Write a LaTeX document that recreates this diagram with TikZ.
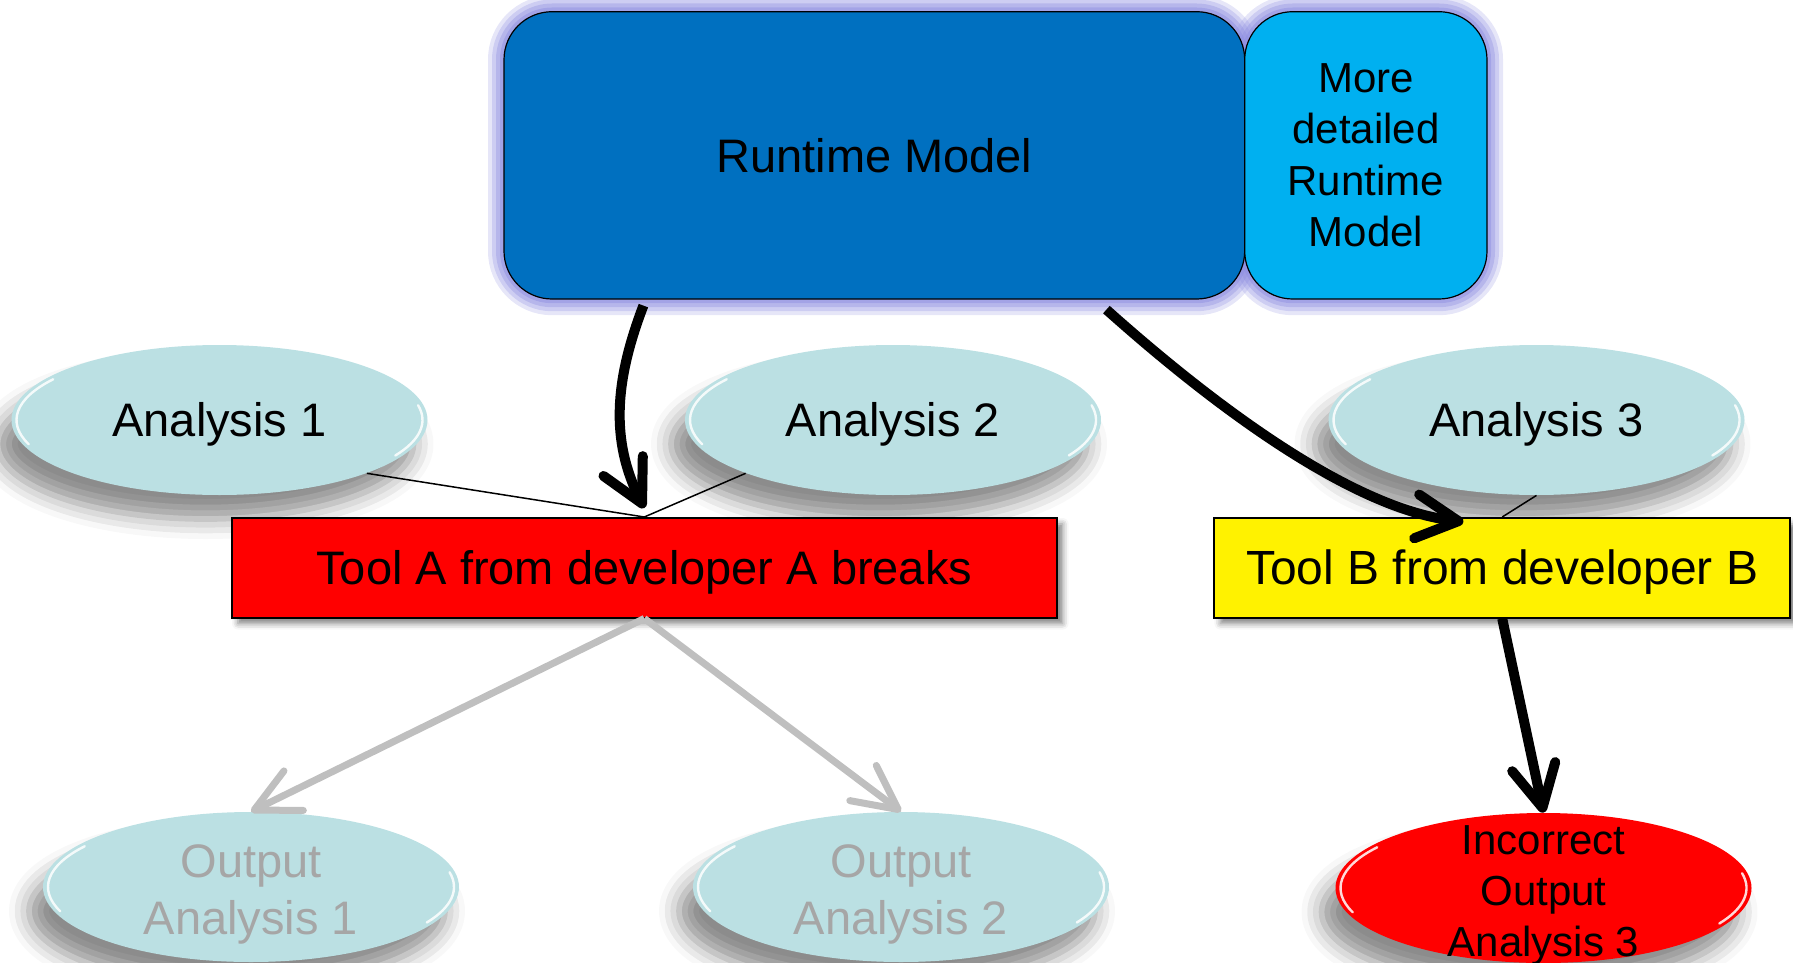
\documentclass[tikz,border=0pt]{standalone}
\usepackage{fontspec}
\setmainfont{Liberation Sans}
\usetikzlibrary{shapes.geometric,arrows.meta,shadows.blur,calc}
\definecolor{rtblue}{HTML}{0070C0}
\definecolor{rtcyan}{HTML}{00B0F0}
\definecolor{anfill}{HTML}{BBE0E3}
\definecolor{glowc}{HTML}{8C8CE0}
\definecolor{outtext}{HTML}{A6A6A6}
\definecolor{outarrow}{HTML}{BFBFBF}
\tikzset{
  modelbox/.style={draw=black, line width=0.6pt, rounded corners=24pt, inner sep=0pt,
    minimum height=143.65pt, align=center, font=\fontsize{23.5pt}{25.5pt}\selectfont},
  glowring/.style={draw=glowc, rounded corners=24pt},
  anellipse/.style={ellipse, fill=anfill, minimum width=208pt, minimum height=75pt, inner sep=0pt,
    text height=16.9pt, text depth=0pt,
    blur shadow={shadow xshift=-7pt, shadow yshift=-12pt, shadow blur radius=10pt, shadow opacity=45},
    font=\fontsize{23.5pt}{28.2pt}\selectfont},
  toolbox/.style={draw=black, line width=1pt, minimum height=49.75pt, inner sep=0pt,
    text height=16.9pt, text depth=0pt,
    blur shadow={shadow xshift=3pt, shadow yshift=-3pt, shadow blur radius=3pt, shadow opacity=50},
    font=\fontsize{23.5pt}{28.2pt}\selectfont},
  outlabel/.style={align=center, text=outtext, inner sep=0pt, font=\fontsize{23.5pt}{28.5pt}\selectfont},
  badlabel/.style={align=center, text=black, inner sep=0pt, font=\fontsize{21pt}{25.5pt}\selectfont},
  thinlink/.style={draw=black, line width=0.75pt},
  boldarrow/.style={draw=black, line width=5pt, -{Straight Barb[length=21pt,width=22pt,round]}},
  fadedarrow/.style={draw=outarrow, line width=3.5pt, -{Straight Barb[length=22pt,width=22pt,round]}},
  shine/.style={draw=white, line width=1.2pt, opacity=0.85, line cap=round}
}
\begin{document}
\begin{tikzpicture}[x=0.5pt,y=-0.5pt]
\useasboundingbox (0,0) rectangle (1793,963);
\clip (0,0) rectangle (1793,963);

% soft glow around the runtime models
\foreach \w/\o in {16pt/0.22, 12pt/0.28, 8pt/0.35, 4pt/0.45} {
  \draw[glowring, line width=\w, opacity=\o] (504,11.5) rectangle (1244.7,299.2);
  \draw[glowring, line width=\w, opacity=\o] (1244.7,11.5) rectangle (1487,299.2);
}

% runtime models
\node[modelbox, fill=rtblue, minimum width=370.35pt] (rm) at (874.35,155.35) {Runtime Model};
\node[modelbox, fill=rtcyan, minimum width=121.15pt, font=\fontsize{21pt}{25.75pt}\selectfont]
  (detail) at (1365.85,155.35) {More\\detailed\\Runtime\\Model};

% analyses
\node[anellipse] (a1) at (219.5,420) {Analysis 1};
\node[anellipse] (a2) at (893,420) {Analysis 2};
\node[anellipse] (a3) at (1536.5,420) {Analysis 3};

% tools
\node[toolbox, fill=red, minimum width=412.3pt] (toolA) at (644.3,567.75) {Tool A from developer A breaks};
\node[toolbox, fill=yellow, minimum width=287.8pt, font=\fontsize{24pt}{28.8pt}\selectfont]
  (toolB) at (1502.2,567.75) {Tool B from developer B};

% outputs
\node[anellipse] (o1) at (251,887) {};
\node[anellipse] (o2) at (901,887) {};
\node[anellipse, fill=red] (inc) at (1543.5,888) {};
\node[outlabel] (o1t) at (251,894) {Output\\Analysis 1};
\node[outlabel] (o2t) at (901,894) {Output\\Analysis 2};
\node[badlabel] (inct) at (1543.5,895) {Incorrect\\Output\\Analysis 3};

% bevel highlights on the ellipses
\foreach \n in {a1,a2,a3,o1,o2,inc} {
  \draw[shine] ($(\n.center)+(160:203 and 71)$) arc[start angle=160, end angle=215, x radius=203, y radius=71];
  \draw[shine] ($(\n.center)+(-12:203 and 71)$) arc[start angle=-12, end angle=30, x radius=203, y radius=71];
}

% inputs of the tools
\draw[thinlink] (a1.south east) -- (toolA.north);
\draw[thinlink] (a2.south west) -- (toolA.north);
\draw[thinlink] (a3.south) -- (toolB.north);

% runtime model feeds the tools
\draw[boldarrow] ([xshift=70pt, yshift=-3pt]rm.south west)
  .. controls (615,380) and (610,440) .. ([yshift=4.5pt]toolA.north);
\draw[boldarrow] ([xshift=301.5pt, yshift=-5pt]rm.south west)
  .. controls (1230,420) and (1360,510) .. ([xshift=125pt, yshift=-2.35pt]toolB.north west);

% tool results
\draw[fadedarrow] (toolA.south) -- (o1.north);
\draw[fadedarrow] (toolA.south) -- (o2.north);
\draw[boldarrow] (toolB.south) -- (inc.north);
\end{tikzpicture}
\end{document}
